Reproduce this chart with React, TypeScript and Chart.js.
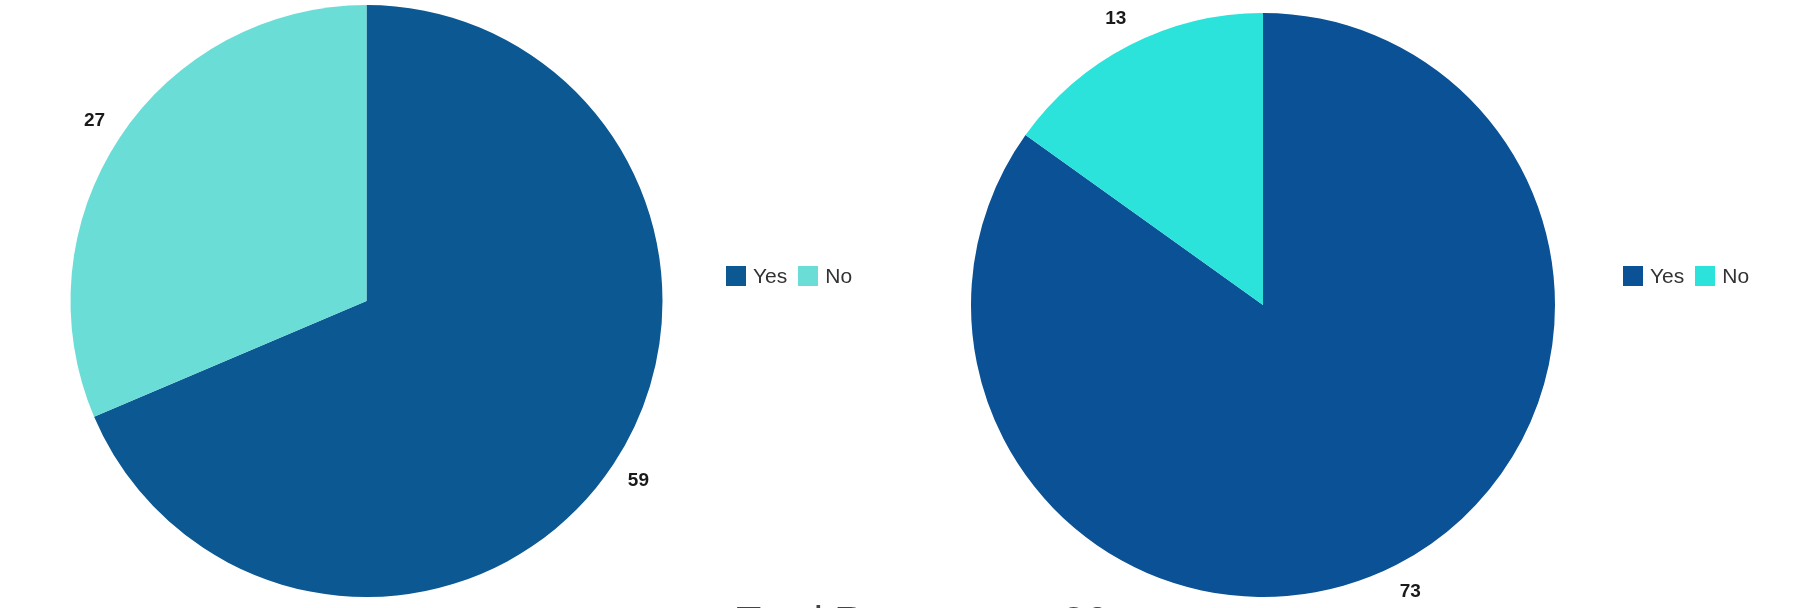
import React, { useRef, useEffect } from "react";
import { Chart, registerables } from "chart.js";

Chart.register(...registerables);

const categories = ["Yes", "No"];
const leftValues = [59, 27];
const rightValues = [73, 13];
const leftColors = ["#0b5893", "#6addd6"];
const rightColors = ["#0a5196", "#2be3da"];
const footerText = "Total Responses: 86";

// draws the value of each slice just outside the pie
const outsideLabels = {
    id: "outsideLabels",
    afterDatasetsDraw(chart: Chart) {
        const ctx = chart.ctx;
        const meta = chart.getDatasetMeta(0);
        const values = chart.data.datasets[0].data as number[];
        ctx.save();
        ctx.font = "bold 19px 'Liberation Sans', Arial, sans-serif";
        ctx.fillStyle = "#1a1a1a";
        ctx.textAlign = "center";
        ctx.textBaseline = "middle";
        meta.data.forEach((arc: any, i: number) => {
            const { x, y, startAngle, endAngle, outerRadius } = arc.getProps(
                ["x", "y", "startAngle", "endAngle", "outerRadius"], true);
            const mid = (startAngle + endAngle) / 2;
            const d = outerRadius + 30;
            ctx.fillText(String(values[i]), x + Math.cos(mid) * d, y + Math.sin(mid) * d);
        });
        ctx.restore();
    }
};

interface PieProps {
    values: number[];
    colors: string[];
    width: number;
    padTop: number;
    padBottom: number;
}

const Pie: React.FC<PieProps> = ({ values, colors, width, padTop, padBottom }) => {
    const canvasRef = useRef<HTMLCanvasElement>(null);

    useEffect(() => {
        if (!canvasRef.current) return;
        const chart = new Chart(canvasRef.current, {
            type: "pie",
            data: {
                labels: categories,
                datasets: [{ data: values, backgroundColor: colors, borderWidth: 0 }]
            },
            options: {
                responsive: false,
                animation: false,
                layout: { padding: { top: padTop, bottom: padBottom, left: 0, right: 0 } },
                plugins: {
                    legend: { display: false },
                    tooltip: { enabled: false }
                }
            },
            plugins: [outsideLabels]
        });
        return () => chart.destroy();
    }, []);

    return <canvas ref={canvasRef} width={width} height={608} style={{ width, height: 608, display: "block" }} />;
};

const Legend: React.FC<{ colors: string[] }> = ({ colors }) => (
    <div style={{ display: "flex", alignItems: "center", fontFamily: "'Liberation Sans', Arial, sans-serif", fontSize: 21, color: "#333" }}>
        {categories.map((c, i) => (
            <div key={c} style={{ display: "flex", alignItems: "center", marginRight: 11 }}>
                <span style={{ width: 20, height: 20, background: colors[i], display: "inline-block", marginRight: 7 }} />
                <span>{c}</span>
            </div>
        ))}
    </div>
);

const App: React.FC = () => {
    return (
        <div style={{ position: "absolute", left: 0, top: 0, width: 1796, height: 608, overflow: "hidden", background: "#fff" }}>
            <div style={{ position: "absolute", left: 0, top: 0 }}>
                <Pie values={leftValues} colors={leftColors} width={733} padTop={5} padBottom={11} />
            </div>
            <div style={{ position: "absolute", left: 726, top: 264 }}>
                <Legend colors={leftColors} />
            </div>
            <div style={{ position: "absolute", left: 900, top: 0 }}>
                <Pie values={rightValues} colors={rightColors} width={726} padTop={13} padBottom={11} />
            </div>
            <div style={{ position: "absolute", left: 1623, top: 264 }}>
                <Legend colors={rightColors} />
            </div>
            <div style={{ position: "absolute", left: 0, width: 1844, top: 601, textAlign: "center", fontFamily: "'Liberation Sans', Arial, sans-serif", fontSize: 41, lineHeight: 1, color: "#444" }}>
                {footerText}
            </div>
        </div>
    );
};

export default App;
